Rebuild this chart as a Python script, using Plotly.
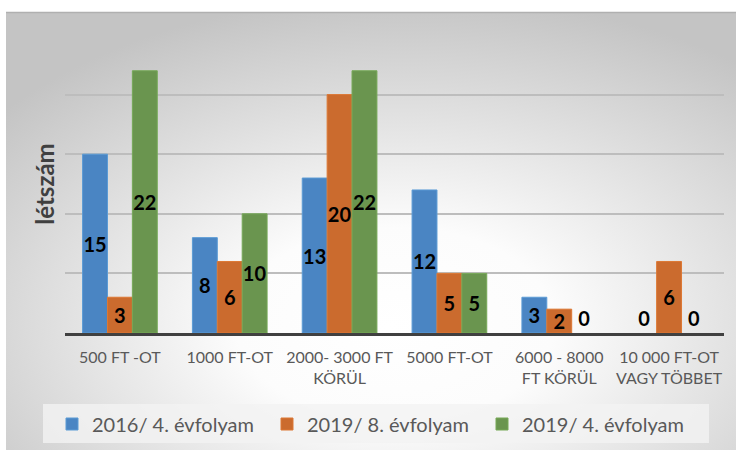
"""Zsebpénz-kérdés: létszám évfolyamonként, oszlopdiagram."""

import base64

import plotly.graph_objects as go

CATEGORIES = [
    "500 FT -OT",
    "1000 FT-OT",
    "2000- 3000 FT<br>KÖRÜL",
    "5000 FT-OT",
    "6000 - 8000<br>FT KÖRÜL",
    "10 000 FT-OT<br>VAGY TÖBBET",
]
SERIES_NAMES = ["2016/ 4. évfolyam", "2019/ 8. évfolyam", "2019/ 4. évfolyam"]
VALUES_2016_4 = [15, 8, 13, 12, 3, 0]
VALUES_2019_8 = [3, 6, 20, 5, 2, 6]
VALUES_2019_4 = [22, 10, 22, 5, 0, 0]

FILLS = ["#4a85c3", "#cb6b2e", "#6a954f"]
LINES = ["#5b9bd5", "#dd7834", "#76a957"]

W, H = 736, 450
M_L, M_R, M_T, M_B = 65, 12, 35, 117
FONT = "Lato, 'Open Sans', sans-serif"


def _background_svg() -> str:
    svg = f"""<svg xmlns="http://www.w3.org/2000/svg" width="{W}" height="{H}" viewBox="0 0 {W} {H}" preserveAspectRatio="none">
<defs>
<radialGradient id="g" cx="0.55" cy="0.68" r="0.72" fx="0.52" fy="0.7">
<stop offset="0" stop-color="#ffffff"/>
<stop offset="0.3" stop-color="#fcfcfc"/>
<stop offset="1" stop-color="#c4c4c4"/>
</radialGradient>
</defs>
<rect x="0" y="0" width="{W}" height="{H}" fill="#ffffff"/>
<rect x="6" y="12" width="{W}" height="{H}" fill="url(#g)"/>
<line x1="6" y1="12.5" x2="{W}" y2="12.5" stroke="#b0b0b0" stroke-width="1.5"/>
<rect x="43" y="404" width="666" height="39" fill="#f2f2f2" fill-opacity="0.8"/>
</svg>"""
    return "data:image/svg+xml;base64," + base64.b64encode(svg.encode("utf-8")).decode("ascii")


def main() -> None:
    plot_w = W - M_L - M_R
    plot_h = H - M_T - M_B

    fig = go.Figure()
    for name, values, fill, line in zip(
        SERIES_NAMES, [VALUES_2016_4, VALUES_2019_8, VALUES_2019_4], FILLS, LINES
    ):
        fig.add_trace(
            go.Bar(
                name=name,
                x=CATEGORIES,
                y=values,
                text=[str(v) for v in values],
                textposition=["outside" if v == 0 else "inside" for v in values],
                insidetextanchor="middle",
                textangle=0,
                constraintext="none",
                cliponaxis=False,
                textfont=dict(family=FONT, size=20, color="#000000", weight="bold"),
                marker=dict(
                    color=fill,
                    line=dict(color=line, width=[0 if v == 0 else 1 for v in values]),
                ),
            )
        )

    fig.update_layout(
        width=W,
        height=H,
        margin=dict(l=M_L, r=M_R, t=M_T, b=M_B, autoexpand=False),
        barmode="group",
        bargap=0.32,
        bargroupgap=0,
        paper_bgcolor="#ffffff",
        plot_bgcolor="rgba(0,0,0,0)",
        font=dict(family=FONT, color="#595959"),
        uniformtext=dict(mode="show", minsize=20),
        showlegend=True,
        legend=dict(
            orientation="h",
            x=(52 - M_L) / plot_w,
            xanchor="left",
            y=(M_T + plot_h - 424) / plot_h,
            yanchor="middle",
            bgcolor="rgba(0,0,0,0)",
            font=dict(family=FONT, size=20, color="#595959"),
            entrywidth=170,
            entrywidthmode="pixels",
        ),
        images=[
            dict(
                source=_background_svg(),
                xref="paper",
                yref="paper",
                x=-M_L / plot_w,
                y=(M_T + plot_h) / plot_h,
                sizex=W / plot_w,
                sizey=H / plot_h,
                xanchor="left",
                yanchor="top",
                sizing="stretch",
                layer="below",
            )
        ],
    )
    fig.update_xaxes(
        showgrid=False,
        showline=True,
        linecolor="#404040",
        linewidth=2.5,
        ticks="",
        tickfont=dict(family=FONT, size=16, color="#595959"),
        ticklabelstandoff=8,
    )
    fig.update_yaxes(
        range=[0, 25],
        dtick=5,
        showticklabels=False,
        showgrid=True,
        gridcolor="#bdbdbd",
        gridwidth=1.5,
        zeroline=False,
        title=dict(
            text="<b>létszám</b>",
            font=dict(family=FONT, size=24, color="#404040"),
            standoff=2,
        ),
    )
    # az oldal alapértelmezett 8 px-es margója nélkül, eszköztár nélkül
    fig.write_html(
        "out.html",
        config={"displayModeBar": False},
        post_script="document.body.style.margin = '0';",
    )


main()
